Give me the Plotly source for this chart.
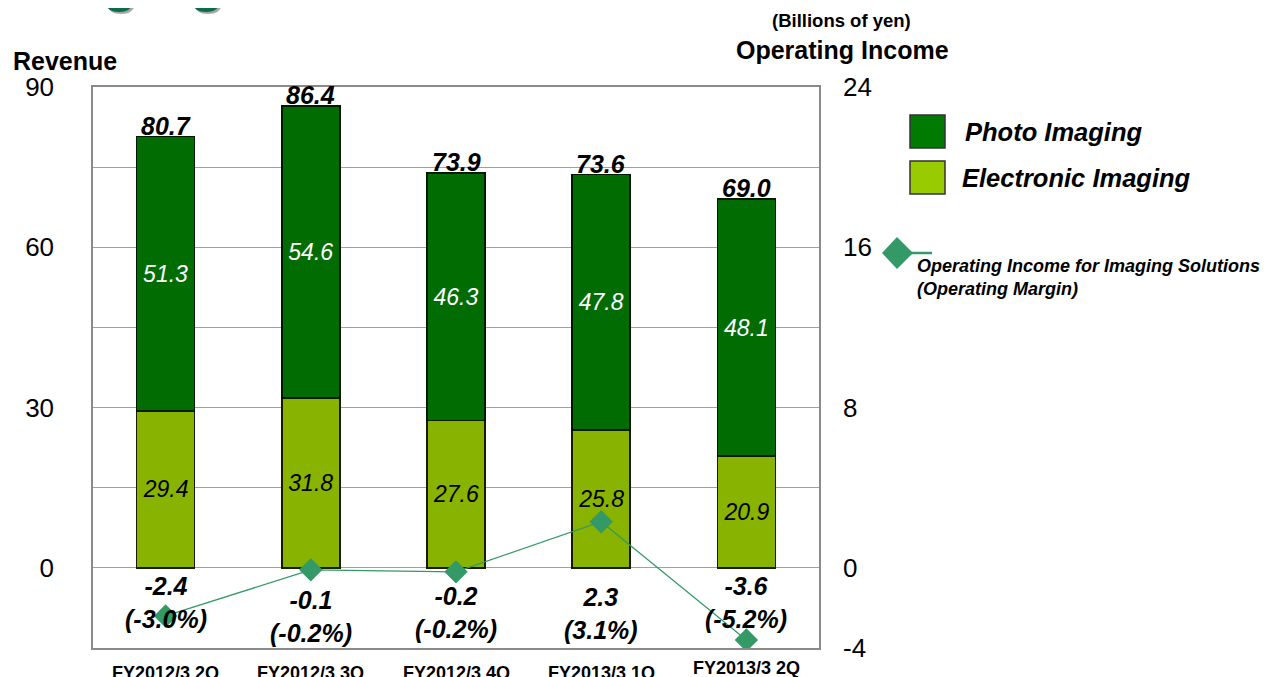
import plotly.graph_objects as go

# ---------------- data ----------------
categories = ["FY2012/3 2Q", "FY2012/3 3Q", "FY2012/3 4Q", "FY2013/3 1Q", "FY2013/3 2Q"]
photo_imaging = [51.3, 54.6, 46.3, 47.8, 48.1]
electronic_imaging = [29.4, 31.8, 27.6, 25.8, 20.9]
revenue_total = [80.7, 86.4, 73.9, 73.6, 69.0]
operating_income = [-2.4, -0.1, -0.2, 2.3, -3.6]
operating_margin = [-3.0, -0.2, -0.2, 3.1, -5.2]
left_ticks = [0, 30, 60, 90]
right_ticks = [-4, 0, 8, 16, 24]

# ---------------- styling ----------------
W, H = 1269, 677
OFF = 8                      # page offset of the figure in the browser
ML, MR, MT, MB = 85, 458, 79, 37
PH = H - MT - MB
PW = W - ML - MR
FONT = "Liberation Sans, Arial, sans-serif"
PHOTO_COLOR = "#016C01"
ELEC_COLOR = "#88B300"
LINE_COLOR = "#339966"
GRID = "#a0a0a0"
BORDER = "#8a8a8a"

# label placement (right-axis units) for operating income annotations
oi_label_y = [-1.75, -2.45, -2.25, -2.3, -1.75]
# x label vertical centres (screen px)
xlabel_py = [673, 673, 673, 673, 668]


def px_x(s):
    return (s - OFF - ML) / PW


def px_y(s):
    return (H - MB - (s - OFF)) / PH


fig = go.Figure()

fig.add_trace(go.Bar(
    x=categories, y=electronic_imaging, name="Electronic Imaging",
    marker=dict(color=ELEC_COLOR, line=dict(color="#1a1a00", width=1.5)),
    text=[f"{v:.1f}" for v in electronic_imaging], textposition="inside",
    insidetextanchor="middle", textangle=0, constraintext="none",
    textfont=dict(family=FONT, size=23, color="black", style="italic"),
    width=0.4, showlegend=False, hoverinfo="skip",
))
fig.add_trace(go.Bar(
    x=categories, y=photo_imaging, name="Photo Imaging",
    marker=dict(color=PHOTO_COLOR, line=dict(color="#001a00", width=1.5)),
    text=[f"{v:.1f}" for v in photo_imaging], textposition="inside",
    insidetextanchor="middle", textangle=0, constraintext="none",
    textfont=dict(family=FONT, size=23, color="white", style="italic"),
    width=0.4, showlegend=False, hoverinfo="skip",
))
fig.add_trace(go.Scatter(
    x=categories, y=operating_income, yaxis="y2", mode="lines+markers",
    line=dict(color=LINE_COLOR, width=1.2),
    marker=dict(symbol="diamond", size=18, color=LINE_COLOR),
    showlegend=False, hoverinfo="skip",
))

annotations = []
# totals above bars
for c, t in zip(categories, revenue_total):
    annotations.append(dict(
        x=c, y=t, xref="x", yref="y", text=f"<b><i>{t:.1f}</i></b>",
        showarrow=False, yanchor="bottom", yshift=-5,
        font=dict(family=FONT, size=25, color="black")))
# operating income labels
for c, v, m, ly in zip(categories, operating_income, operating_margin, oi_label_y):
    annotations.append(dict(
        x=c, y=ly, xref="x", yref="y2",
        text=f"<b><i>{v:.1f}<br>({m:.1f}%)</i></b>",
        showarrow=False, align="center",
        font=dict(family=FONT, size=25, color="black")))
# x labels
for c, py in zip(categories, xlabel_py):
    annotations.append(dict(
        x=c, y=px_y(py), xref="x", yref="paper", text=f"<b>{c}</b>",
        showarrow=False, yanchor="middle",
        font=dict(family=FONT, size=18, color="black")))

# titles
title_txt = "Imaging"
annotations += [
    dict(x=px_x(0), y=px_y(14), xref="paper", yref="paper", xanchor="left", yanchor="bottom",
         text=f'<b><span style="color:#a8a8a8">{title_txt}</span></b>', xshift=2, yshift=-2,
         showarrow=False, font=dict(family=FONT, size=58)),
    dict(x=px_x(0), y=px_y(14), xref="paper", yref="paper", xanchor="left", yanchor="bottom",
         text=f'<b><span style="color:#0b6b4b">{title_txt}</span> <span style="color:#cfcfcf">Solutions</span></b>',
         showarrow=False, font=dict(family=FONT, size=58)),
    dict(x=px_x(65), y=px_y(61), xref="paper", yref="paper", xanchor="center", yanchor="middle",
         text="<b>Revenue</b>", showarrow=False, font=dict(family=FONT, size=25, color="black")),
    dict(x=px_x(841), y=px_y(21), xref="paper", yref="paper", xanchor="center", yanchor="middle",
         text="<b>(Billions of yen)</b>", showarrow=False, font=dict(family=FONT, size=18.5, color="black")),
    dict(x=px_x(843), y=px_y(50), xref="paper", yref="paper", xanchor="center", yanchor="middle",
         text="<b>Operating Income</b>", showarrow=False, font=dict(family=FONT, size=25, color="black")),
    dict(x=px_x(963), y=px_y(132), xref="paper", yref="paper", xanchor="left", yanchor="middle",
         text="<b><i>Photo Imaging</i></b>", showarrow=False, font=dict(family=FONT, size=25.5, color="black")),
    dict(x=px_x(960), y=px_y(178), xref="paper", yref="paper", xanchor="left", yanchor="middle",
         text="<b><i>Electronic Imaging</i></b>", showarrow=False, font=dict(family=FONT, size=25.5, color="black")),
    dict(x=px_x(915), y=px_y(277), xref="paper", yref="paper", xanchor="left", yanchor="middle",
         text="<b><i>Operating Income for Imaging Solutions<br>(Operating Margin)</i></b>", align="left",
         showarrow=False, font=dict(family=FONT, size=18, color="black")),
]

shapes = [
    dict(type="rect", xref="paper", yref="paper", x0=px_x(910), x1=px_x(945), y0=px_y(148), y1=px_y(115),
         fillcolor="#007A00", line=dict(color="#333333", width=1.5)),
    dict(type="rect", xref="paper", yref="paper", x0=px_x(910), x1=px_x(945), y0=px_y(194), y1=px_y(161),
         fillcolor="#99CC00", line=dict(color="#333333", width=1.5)),
    dict(type="path", xref="paper", yref="paper",
         path=f"M {px_x(882)} {px_y(253)} L {px_x(897)} {px_y(237)} L {px_x(913)} {px_y(253)} L {px_x(897)} {px_y(269)} Z",
         fillcolor=LINE_COLOR, line=dict(width=0)),
    dict(type="line", xref="paper", yref="paper", x0=px_x(911), x1=px_x(932), y0=px_y(253), y1=px_y(253),
         line=dict(color=LINE_COLOR, width=2.5)),
]

grid_vals = list(range(-15, 91, 15))
fig.update_layout(
    width=W, height=H, margin=dict(l=ML, r=MR, t=MT, b=MB, autoexpand=False),
    paper_bgcolor="white", plot_bgcolor="white",
    barmode="stack",
    font=dict(family=FONT, color="black"),
    showlegend=False,
    xaxis=dict(showticklabels=False, showgrid=False, zeroline=False, ticks="",
               showline=True, mirror=True, linecolor=BORDER, linewidth=1.5,
               range=[-0.5, 4.5]),
    yaxis=dict(range=[-15, 90], tickvals=grid_vals,
               ticktext=[str(v) if v in left_ticks else "" for v in grid_vals],
               showgrid=True, gridcolor=GRID, gridwidth=1, zeroline=False,
               showline=True, mirror=True, linecolor=BORDER, linewidth=1.5,
               ticks="", ticklabelstandoff=32,
               tickfont=dict(family=FONT, size=26, color="black")),
    yaxis2=dict(range=[-4, 24], tickvals=right_ticks, ticktext=[str(v) for v in right_ticks],
                overlaying="y", side="right",
                showgrid=False, zeroline=False, showline=False, ticks="",
                ticklabelstandoff=23,
                tickfont=dict(family=FONT, size=26, color="black")),
    annotations=annotations, shapes=shapes,
)

fig.write_html("out.html")
